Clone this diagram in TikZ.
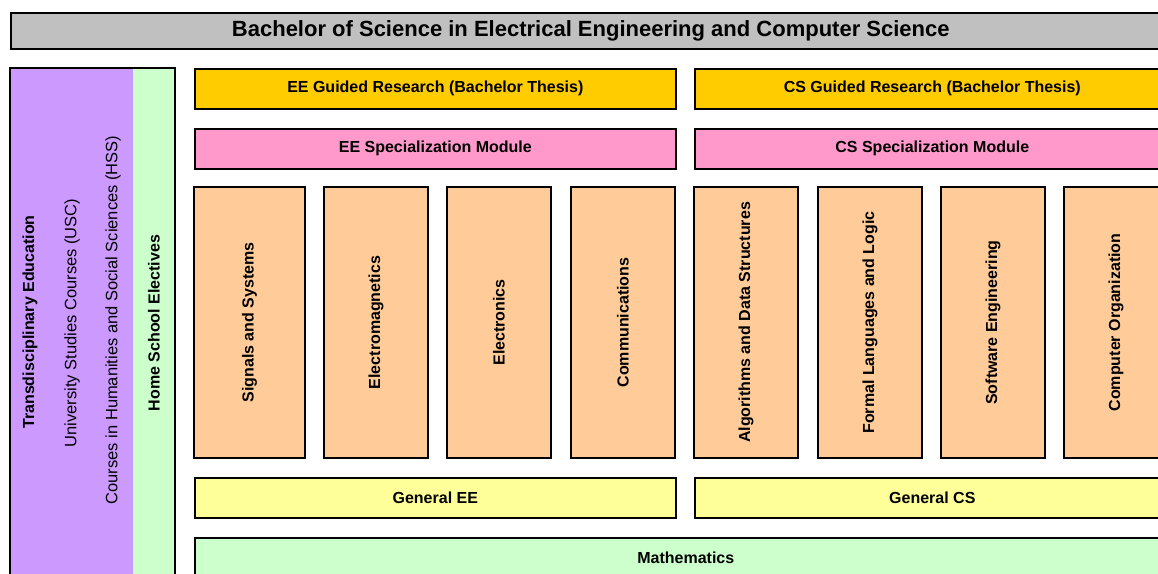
\documentclass[tikz,border=0pt]{standalone}
\usepackage{fontspec}
\setmainfont{Liberation Sans}
\usepackage{tikz}
\definecolor{titlegray}{HTML}{C0C0C0}
\definecolor{thesisgold}{HTML}{FFCC00}
\definecolor{specpink}{HTML}{FF99CC}
\definecolor{corepeach}{HTML}{FFCC99}
\definecolor{genyellow}{HTML}{FFFF99}
\definecolor{mathgreen}{HTML}{CCFFCC}
\definecolor{transpurple}{HTML}{CC99FF}
\tikzstyle{every node}=[font=\fontsize{16}{19}\selectfont\bfseries]
\tikzstyle{block}=[draw=black,line width=1.6pt,rectangle,inner sep=0pt,anchor=north west]
\tikzstyle{thesis}=[block,fill=thesisgold,minimum height=40pt]
\tikzstyle{spec}=[block,fill=specpink,minimum height=40pt]
\tikzstyle{general}=[block,fill=genyellow,minimum height=40pt]
\tikzstyle{core}=[draw=black,line width=1.6pt,fill=corepeach,inner sep=0pt,rotate=90,minimum width=271pt,minimum height=104pt]
\tikzstyle{sidetext}=[rotate=90,inner sep=0pt]

\begin{document}
\begin{tikzpicture}[x=1pt,y=-1pt]
  \clip (0,0) rectangle (1158,573);
  \fill[white] (0,0) rectangle (1158,573);
  % title bar
  \node [block,fill=titlegray,minimum width=1160pt,minimum height=36pt,font=\fontsize{22}{26}\selectfont\bfseries] (title) at (10,12)
    {Bachelor of Science in Electrical Engineering and Computer Science};
  % left column
  \fill[transpurple] (10,68) rectangle (133,578);
  \fill[mathgreen] (133,68) rectangle (175,578);
  \draw[line width=1.6pt] (10,68) rectangle (175,578);
  \node [sidetext] (transd) at (30,322) {Transdisciplinary Education};
  \node [sidetext,font=\fontsize{16.5}{19}\selectfont] (usc) at (72,323) {University Studies Courses (USC)};
  \node [sidetext,font=\fontsize{16.5}{19}\selectfont] (hss) at (113,320) {Courses in Humanities and Social Sciences (HSS)};
  \node [sidetext] (hse) at (154,323) {Home School Electives};
  % thesis and specialization
  \node [thesis,minimum width=481pt] (eeThesis) at (194,68) {EE Guided Research (Bachelor Thesis)};
  \node [thesis,minimum width=475pt] (csThesis) at (694,68) {CS Guided Research (Bachelor Thesis)};
  \node [spec,minimum width=481pt] (eeSpec) at (194,128) {EE Specialization Module};
  \node [spec,minimum width=475pt] (csSpec) at (694,128) {CS Specialization Module};
  % core modules
  \node [core,minimum height=111pt] (sig) at (249.5,322.5) {Signals and Systems};
  \node [core] (emag) at (376,322.5) {Electromagnetics};
  \node [core] (elec) at (499,322.5) {Electronics};
  \node [core] (comm) at (623,322.5) {Communications};
  \node [core] (algo) at (746,322.5) {Algorithms and Data Structures};
  \node [core] (flang) at (870,322.5) {Formal Languages and Logic};
  \node [core] (soft) at (993,322.5) {Software Engineering};
  \node [core] (corg) at (1116,322.5) {Computer Organization};
  % general and mathematics
  \node [general,minimum width=481pt] (genEE) at (194,477) {General EE};
  \node [general,minimum width=475pt] (genCS) at (694,477) {General CS};
  \node [block,fill=mathgreen,minimum width=982pt,minimum height=40pt] (math) at (194,537) {Mathematics};
\end{tikzpicture}
\end{document}
